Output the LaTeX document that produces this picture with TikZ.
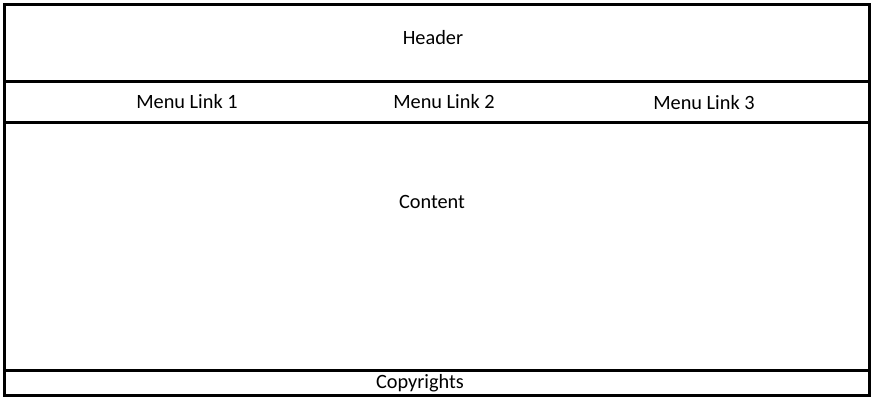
\documentclass[tikz,border=0pt]{standalone}
\usepackage{fontspec}
\setmainfont{Carlito}
\begin{document}
\begin{tikzpicture}[x=1pt,y=-1pt,
  frame/.style={line width=3pt,draw=black},
  lbl/.style={inner sep=0pt,font=\fontsize{20.3}{23}\selectfont,anchor=center}]
\useasboundingbox (0,0) rectangle (878,402);
\fill[white] (0,0) rectangle (878,402);
\draw[frame] (4,4) rectangle (869,395.5);
\coordinate (h1l) at (4,81.5); \coordinate (h1r) at (869,81.5);
\coordinate (h2l) at (4,122); \coordinate (h2r) at (869,122);
\coordinate (h3l) at (4,370); \coordinate (h3r) at (869,370);
\draw[frame] (h1l) -- (h1r);
\draw[frame] (h2l) -- (h2r);
\draw[frame] (h3l) -- (h3r);
\node[lbl] (header) at (433,38) {Header};
\node[lbl] (m1) at (187,102) {Menu Link 1};
\node[lbl] (m2) at (444,102) {Menu Link 2};
\node[lbl] (m3) at (704,102.5) {Menu Link 3};
\node[lbl] (content) at (432,201.5) {Content};
\node[lbl] (copy) at (420,383.5) {Copyrights};
\end{tikzpicture}
\end{document}
